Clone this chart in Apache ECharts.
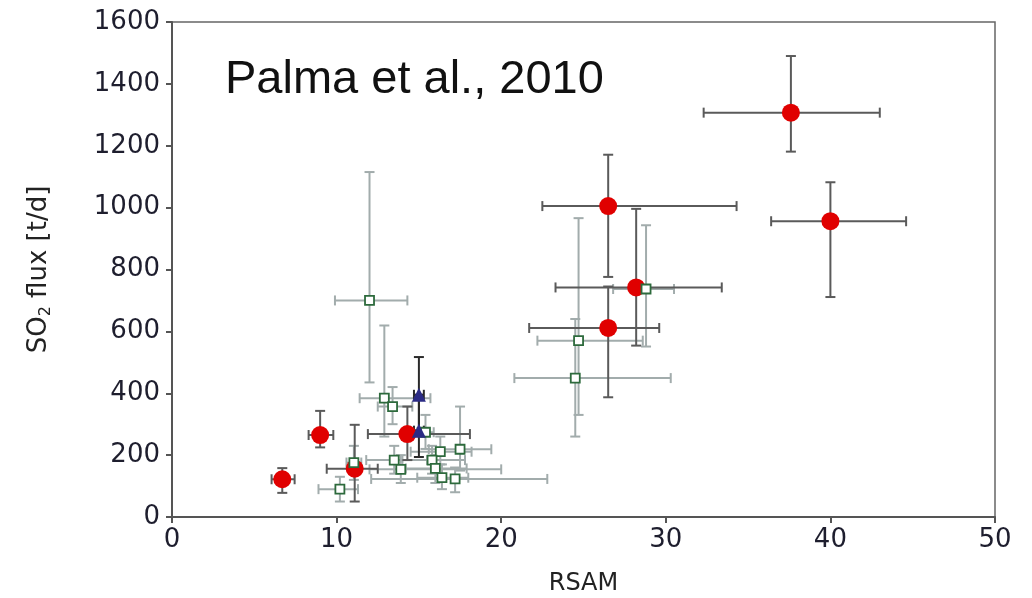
<!DOCTYPE html>
<html>
<head>
<meta charset="utf-8">
<script src="https://cdn.jsdelivr.net/npm/echarts@6/dist/echarts.min.js"></script>
<style>
  html, body { margin: 0; padding: 0; background: #fff; }
  #main { width: 1032px; height: 598px; }
</style>
</head>
<body>
<div id="main"></div>
<script>
// each row: [RSAM, SO2 flux, RSAM low, RSAM high, flux low, flux high]
const redPoints = [
  [6.7, 122, 6.05, 7.45, 78, 158],
  [9.0, 265, 8.3, 9.8, 225, 343],
  [11.1, 156, 9.4, 12.5, 50, 298],
  [14.3, 268, 11.9, 18.1, 184, 357],
  [26.5, 611, 21.7, 29.6, 387, 745],
  [26.5, 1005, 22.5, 34.3, 776, 1171],
  [28.2, 742, 23.3, 33.4, 554, 996],
  [37.6, 1307, 32.3, 43.0, 1181, 1490],
  [40.0, 956, 36.4, 44.6, 711, 1082]
];

const greenPoints = [
  [28.8, 737, 26.8, 30.5, 551, 943],
  [24.7, 570, 22.2, 28.6, 330, 966],
  [24.5, 449, 20.8, 30.3, 260, 640],
  [12.0, 700, 9.9, 14.3, 435, 1115],
  [12.9, 384, 11.4, 15.7, 260, 619],
  [13.4, 357, 12.5, 14.6, 300, 420],
  [15.4, 274, 14.9, 15.9, 220, 330],
  [11.05, 176, 10.6, 11.5, 120, 230],
  [10.2, 90, 8.9, 11.3, 50, 130],
  [13.5, 184, 11.8, 15.5, 140, 230],
  [13.9, 154, 12.0, 20.0, 110, 200],
  [16.3, 211, 14.5, 18.2, 170, 260],
  [17.5, 219, 15.6, 19.4, 150, 357],
  [15.8, 184, 14.0, 17.8, 140, 230],
  [16.0, 157, 14.2, 17.9, 110, 200],
  [16.4, 127, 14.9, 18.0, 90, 170],
  [17.2, 123, 12.1, 22.8, 80, 160]
];

const bluePoints = [
  [15.0, 395, 14.7, 15.3, 280, 517],
  [15.0, 279, 14.7, 15.3, 194, 395]
];

// error bars drawn with a custom series
function errorBars(color, width, cap) {
  return function (params, api) {
    const c = api.coord([api.value(0), api.value(1)]);
    const xl = api.coord([api.value(2), api.value(1)])[0];
    const xh = api.coord([api.value(3), api.value(1)])[0];
    const yl = api.coord([api.value(0), api.value(4)])[1];
    const yh = api.coord([api.value(0), api.value(5)])[1];
    const style = { stroke: color, lineWidth: width };
    const line = (x1, y1, x2, y2) => ({ type: 'line', shape: { x1, y1, x2, y2 }, style });
    return {
      type: 'group',
      children: [
        line(xl, c[1], xh, c[1]),
        line(c[0], yl, c[0], yh),
        line(xl, c[1] - cap, xl, c[1] + cap),
        line(xh, c[1] - cap, xh, c[1] + cap),
        line(c[0] - cap, yl, c[0] + cap, yl),
        line(c[0] - cap, yh, c[0] + cap, yh)
      ]
    };
  };
}

const labelFont = 'DejaVu Sans';

const myChart = echarts.init(document.getElementById('main'));
myChart.setOption({
  animation: false,
  backgroundColor: '#fff',
  grid: {
    left: 172, right: 37, top: 22, bottom: 81,
    outerBoundsMode: 'none',
    show: true, borderColor: '#666', borderWidth: 1.5
  },
  graphic: [{
    type: 'text', left: 225, top: 57,
    style: { text: 'Palma et al., 2010', font: '47px "Liberation Sans", Arial, sans-serif', fill: '#111' }
  }],
  xAxis: {
    type: 'value', min: 0, max: 50, interval: 10,
    name: 'RSAM', nameLocation: 'middle', nameGap: 55,
    nameTextStyle: { fontFamily: labelFont, fontSize: 24, color: '#222' },
    axisLine: { lineStyle: { color: '#555', width: 2 } },
    axisTick: { length: 6, lineStyle: { color: '#555', width: 2 } },
    axisLabel: { fontFamily: labelFont, fontSize: 26, color: '#1e1e2e', margin: 10 },
    splitLine: { show: false }
  },
  yAxis: {
    type: 'value', min: 0, max: 1600, interval: 200,
    name: '{a|SO}{s|2}{a| flux [t/d]}', nameLocation: 'middle', nameGap: 118,
    nameTextStyle: {
      rich: {
        a: { fontFamily: labelFont, fontSize: 26, color: '#222' },
        s: { fontFamily: labelFont, fontSize: 16, color: '#222', padding: [13, 0, 0, 0] }
      }
    },
    axisLine: { lineStyle: { color: '#555', width: 2 } },
    axisTick: { length: 6, lineStyle: { color: '#555', width: 2 } },
    axisLabel: {
      fontFamily: labelFont, fontSize: 26, color: '#1e1e2e', margin: 12,
      formatter: v => String(v)
    },
    splitLine: { show: false }
  },
  series: [
    {
      type: 'custom', name: 'green err', z: 2,
      renderItem: errorBars('#a2acac', 2, 5),
      encode: { x: [0, 2, 3], y: [1, 4, 5] },
      data: greenPoints
    },
    {
      type: 'custom', name: 'red err', z: 3,
      renderItem: errorBars('#5a5a5a', 2, 5),
      encode: { x: [0, 2, 3], y: [1, 4, 5] },
      data: redPoints
    },
    {
      type: 'custom', name: 'blue err', z: 3,
      renderItem: errorBars('#2a2a2a', 2, 5),
      encode: { x: [0, 2, 3], y: [1, 4, 5] },
      data: bluePoints
    },
    {
      type: 'scatter', name: 'red', z: 5,
      symbol: 'circle', symbolSize: 18,
      itemStyle: { color: '#e00000', opacity: 1 },
      data: redPoints.map(p => [p[0], p[1]])
    },
    {
      type: 'scatter', name: 'green', z: 6,
      symbol: 'rect', symbolSize: 9,
      itemStyle: { color: '#fff', borderColor: '#2d6a3c', borderWidth: 1.8, opacity: 1 },
      data: greenPoints.map(p => [p[0], p[1]])
    },
    {
      type: 'scatter', name: 'blue', z: 7,
      symbol: 'triangle', symbolSize: 14,
      itemStyle: { color: '#2b2b85', opacity: 1 },
      data: bluePoints.map(p => [p[0], p[1]])
    }
  ]
});
</script>
</body>
</html>
